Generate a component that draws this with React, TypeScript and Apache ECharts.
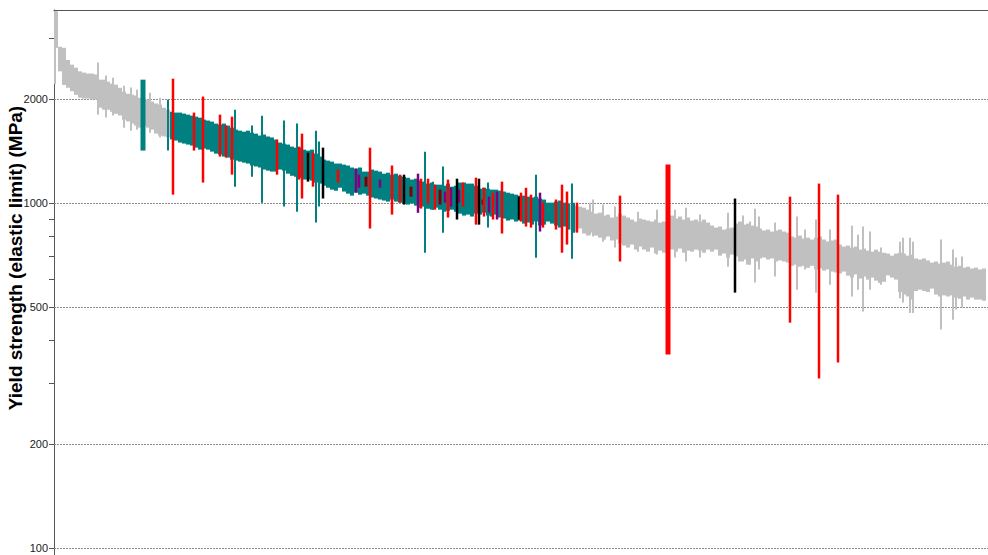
import React, { useEffect, useRef } from "react";
import * as echarts from "echarts";

// Yield strength ranges (MPa) of materials, ordered by strength along an unlabeled rank axis.
// Band materials sit in consecutive rank slots: slot k is at position BAND_START + BAND_STEP * k.
const BAND_START = 2;
const BAND_STEP = 4;

// High-strength grey materials (first 29 slots)
const greyHead: [number, number][] = [
  [2820, 3600], [2410, 2840], [2200, 2820], [2160, 2600], [2110, 2520], [2060, 2470],
  [2020, 2410], [2010, 2390], [2010, 2375], [1995, 2375], [1995, 2360], [1890, 2280],
  [1865, 2280], [1865, 2250], [1840, 2220], [1815, 2205], [1795, 2160], [1745, 2105],
  [1725, 2075], [1700, 2063], [1678, 2050], [1655, 2020], [1678, 1995], [1655, 1995],
  [1633, 1970], [1590, 1945], [1570, 1930], [1560, 1890], [1550, 1866],
];

// Teal family (next 100 slots)
const tealBand: [number, number][] = [
  [1530, 1840], [1518, 1830], [1498, 1830], [1488, 1818], [1478, 1805], [1468, 1793],
  [1448, 1781], [1429, 1769], [1439, 1746], [1429, 1735], [1410, 1723], [1391, 1700],
  [1382, 1689], [1364, 1700], [1355, 1678], [1337, 1655], [1328, 1633], [1319, 1622],
  [1310, 1611], [1302, 1622], [1285, 1600], [1277, 1590], [1268, 1570], [1251, 1580],
  [1242, 1560], [1234, 1550], [1234, 1528], [1251, 1498], [1242, 1488], [1217, 1478],
  [1200, 1458], [1192, 1448], [1184, 1448], [1170, 1429], [1170, 1420], [1162, 1429],
  [1147, 1391], [1139, 1364], [1123, 1337], [1108, 1328], [1094, 1319], [1086, 1302],
  [1108, 1302], [1080, 1293], [1065, 1285], [1051, 1268], [1072, 1259], [1058, 1268],
  [1065, 1234], [1051, 1234], [1038, 1251], [1031, 1242], [1024, 1234], [1017, 1217],
  [1010, 1225], [1024, 1209], [1010, 1217], [1003, 1200], [997, 1192], [990, 1184],
  [997, 1170], [983, 1177], [970, 1162], [977, 1154], [963, 1139], [957, 1147],
  [970, 1131], [957, 1131], [944, 1123], [950, 1139], [957, 1116], [944, 1123],
  [932, 1147], [920, 1147], [926, 1139], [914, 1139], [932, 1123], [926, 1101],
  [938, 1108], [920, 1101], [914, 1094], [926, 1094], [908, 1087], [902, 1080],
  [890, 1072], [896, 1065], [884, 1058], [890, 1051], [872, 1051], [878, 1044],
  [866, 1038], [884, 1044], [861, 1031], [866, 1024], [884, 1003], [872, 1003],
  [861, 1010], [849, 1017], [855, 1003], [838, 997],
];

// Lower-strength grey materials (last 104 slots)
const greyTail: [number, number][] = [
  [838, 990], [827, 983], [844, 977], [816, 970], [805, 957], [821, 944],
  [805, 932], [794, 938], [784, 920], [800, 926], [779, 908], [784, 914],
  [763, 932], [753, 920], [743, 908], [758, 896], [733, 884], [748, 902],
  [733, 896], [723, 890], [743, 884], [714, 896], [728, 878], [718, 884],
  [753, 908], [733, 920], [723, 902], [738, 914], [718, 896], [728, 908],
  [723, 890], [733, 896], [728, 884], [718, 896], [733, 878], [723, 861],
  [733, 849], [704, 855], [714, 838], [695, 844], [709, 849], [700, 872],
  [677, 884], [686, 866], [663, 872], [691, 861], [677, 855], [691, 844],
  [695, 833], [686, 838], [691, 827], [677, 833], [682, 838], [677, 827],
  [672, 821], [658, 800], [663, 794], [654, 805], [658, 789], [649, 794],
  [658, 784], [642, 794], [646, 800], [637, 784], [642, 774], [633, 779],
  [629, 784], [625, 758], [633, 748], [616, 753], [608, 743], [621, 748],
  [604, 733], [612, 738], [600, 728], [608, 723], [596, 733], [587, 723],
  [591, 718], [617, 714], [608, 704], [600, 714], [552, 718], [543, 714],
  [536, 704], [525, 709], [556, 691], [561, 686], [556, 691], [552, 682],
  [565, 672], [543, 677], [536, 668], [540, 672], [536, 677], [540, 663],
  [532, 654], [528, 658], [536, 650], [525, 654], [532, 646], [525, 650],
  [525, 642], [521, 646],
];

// Individual materials: [rank position, low, high]
const greySpikes: [number, number, number][] = [
  [1, 2210, 3600], [44, 1805, 2555], [52, 1770, 2345], [59, 1795, 2310], [70, 1655, 2190],
  [77, 1622, 2162], [83, 1633, 2133], [96, 1600, 2090], [106, 1550, 2020],
  [536, 810, 1003], [539, 800, 1024], [549, 773, 990], [561, 743, 977], [584, 723, 944],
  [603, 709, 957], [621, 695, 957], [632, 677, 970], [646, 695, 926], [674, 654, 938],
  [689, 677, 920], [696, 663, 884], [701, 588, 963], [705, 642, 914], [721, 613, 878],
  [743, 561, 914], [751, 642, 838], [762, 550, 896], [776, 580, 838], [798, 536, 860],
  [804, 561, 810], [809, 485, 855], [816, 561, 827], [827, 580, 743], [846, 530, 773],
  [849, 515, 794], [856, 480, 794], [859, 480, 773], [887, 430, 784], [899, 459, 733],
  [902, 491, 695], [908, 498, 700],
];

const tealSpikes: [number, number, number][] = [
  [114, 1420, 1995], [181, 1116, 1866], [198, 1193, 1678], [208, 1003, 1793],
  [230, 977, 1735], [243, 944, 1700], [262, 878, 1622], [265, 977, 1508],
  [371, 718, 1410], [379, 957, 1154], [389, 820, 1277], [434, 849, 1147],
  [482, 694, 1209], [518, 690, 1139], [520, 821, 1003],
];

const tealWide: [number, number, number][] = [[89, 1420, 2280]];

const redBars: [number, number, number][] = [
  [119, 1058, 2295], [140, 1420, 1830], [149, 1147, 2036], [166, 1364, 1805],
  [172, 1355, 1678], [178, 1209, 1781], [223, 1209, 1528], [245, 1170, 1458],
  [248, 1031, 1590], [259, 1116, 1400], [284, 1147, 1251], [316, 844, 1448],
  [338, 926, 1285], [346, 1003, 1209], [367, 964, 1177], [374, 997, 1177],
  [381, 957, 1131], [394, 908, 1170], [409, 977, 1147], [422, 866, 1185],
  [430, 914, 1108], [439, 896, 1072], [448, 816, 1154], [467, 884, 1072],
  [472, 855, 1108], [477, 849, 1058], [489, 849, 1003], [502, 838, 1024],
  [508, 718, 1131], [513, 758, 1080], [523, 821, 1003], [566, 677, 1051],
  [736, 450, 1044], [765, 310, 1139], [784, 345, 1058],
];

const redWide: [number, number, number][] = [[614, 364, 1293]];

const blackBars: [number, number, number][] = [
  [254, 1154, 1400], [269, 1031, 1448], [350, 990, 1209], [403, 896, 1177],
  [425, 866, 1177], [465, 896, 1044], [681, 550, 1031],
];

const purpleBars: [number, number, number][] = [
  [302, 1072, 1259], [305, 1108, 1209], [326, 1108, 1170], [364, 937, 1217],
  [391, 1003, 1080], [397, 977, 1108], [405, 1003, 1094], [435, 938, 1044],
  [443, 896, 1080], [486, 827, 1072],
];

const maroonBars: [number, number, number][] = [
  [312, 1116, 1193], [357, 1044, 1116], [386, 990, 1094], [429, 990, 1024],
];

// Axis annotations
const LABEL_VALUES = [100, 200, 500, 1000, 2000];
const TICK_VALUES = [100, 200, 300, 400, 500, 600, 700, 800, 900, 1000, 2000, 3000];
const GRID_VALUES = [100, 200, 500, 1000, 2000];
const Y_MIN = 95.4;
const Y_MAX = 3630;
const X_MAX = 934;

function bandItems(pairs: [number, number][], offset: number) {
  return pairs.map(([lo, hi], i) => [BAND_START + BAND_STEP * (offset + i), lo, hi]);
}

function rangeRenderer(color: string, width: number) {
  return (_params: any, api: any) => {
    const x = api.value(0);
    const lo = api.value(1);
    const hi = api.value(2);
    const top = api.coord([x, hi])[1];
    const bottom = api.coord([x, lo])[1];
    const left = api.coord([x - width / 2, hi])[0];
    const right = api.coord([x + width / 2, hi])[0];
    return {
      type: "rect",
      shape: { x: left, y: top, width: right - left, height: bottom - top },
      style: { fill: color },
    };
  };
}

function rangeSeries(name: string, data: number[][], color: string, width: number, z: number) {
  return {
    type: "custom",
    name,
    data,
    renderItem: rangeRenderer(color, width),
    encode: { x: 0, y: [1, 2] },
    silent: true,
    z,
  };
}

export default function App() {
  const ref = useRef<HTMLDivElement>(null);

  useEffect(() => {
    if (!ref.current) return;
    const chart = echarts.init(ref.current, undefined, { renderer: "svg" });

    const grey = "#c0c0c0";
    const teal = "#008080";

    chart.setOption({
      animation: false,
      backgroundColor: "#ffffff",
      grid: { left: 54, right: 0, top: 10, bottom: 0, containLabel: false },
      xAxis: {
        type: "value",
        min: 0,
        max: X_MAX,
        position: "top",
        axisLine: { show: true, onZero: false, lineStyle: { color: "#555555", width: 1 } },
        axisTick: { show: false },
        axisLabel: { show: false },
        splitLine: { show: false },
      },
      yAxis: {
        type: "log",
        logBase: 10,
        min: Y_MIN,
        max: Y_MAX,
        axisLine: { show: true, onZero: false, lineStyle: { color: "#555555", width: 1 } },
        axisTick: {
          show: true,
          customValues: TICK_VALUES,
          length: 5,
          lineStyle: { color: "#555555" },
        },
        axisLabel: {
          customValues: LABEL_VALUES,
          formatter: (v: number) => String(Math.round(v)),
          margin: 6,
          fontSize: 11,
          fontFamily: "Arial, 'Liberation Sans', sans-serif",
          color: "#222222",
        },
        splitLine: { show: false },
        minorTick: { show: false },
      },
      graphic: [
        {
          type: "text",
          x: 15,
          y: 258,
          rotation: Math.PI / 2,
          style: {
            text: "Yield strength (elastic limit) (MPa)",
            font: "bold 19px Arial, 'Liberation Sans', sans-serif",
            fill: "#000000",
            align: "center",
            verticalAlign: "middle",
          },
          silent: true,
        },
      ],
      series: [
        {
          type: "custom",
          name: "gridlines",
          data: GRID_VALUES.map((v) => [0, v]),
          encode: { x: 0, y: 1 },
          silent: true,
          z: 1,
          renderItem: (params: any, api: any) => {
            const cs = params.coordSys;
            const y = Math.round(api.coord([0, api.value(1)])[1]) + 0.5;
            return {
              type: "line",
              shape: { x1: cs.x, y1: y, x2: cs.x + cs.width, y2: y },
              style: { stroke: "#8c8c8c", lineWidth: 1, lineDash: [2, 1] },
            };
          },
        },
        rangeSeries("grey", bandItems(greyHead, 0), grey, BAND_STEP, 2),
        rangeSeries("grey tail", bandItems(greyTail, greyHead.length + tealBand.length), grey, BAND_STEP, 2),
        rangeSeries("grey spikes", greySpikes, grey, 2, 3),
        rangeSeries("teal", bandItems(tealBand, greyHead.length), teal, BAND_STEP, 4),
        rangeSeries("teal spikes", tealSpikes, teal, 2, 5),
        rangeSeries("teal wide", tealWide, teal, 5, 5),
        rangeSeries("maroon", maroonBars, "#800000", 3, 6),
        rangeSeries("purple", purpleBars, "#800080", 2.5, 6),
        rangeSeries("black", blackBars, "#000000", 2.5, 7),
        rangeSeries("red", redBars, "#ff0000", 2.5, 8),
        rangeSeries("red wide", redWide, "#ff0000", 5, 8),
      ],
    });

    return () => chart.dispose();
  }, []);

  return (
    <div
      ref={ref}
      style={{ position: "fixed", left: 0, top: 0, width: 988, height: 555, background: "#fff" }}
    />
  );
}
